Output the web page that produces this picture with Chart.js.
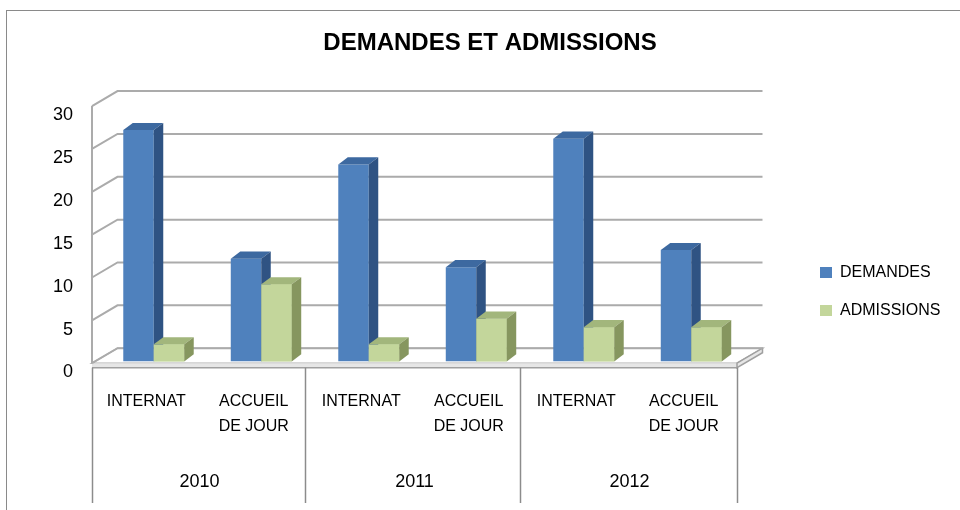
<!DOCTYPE html>
<html><head><meta charset="utf-8">
<script src="https://cdn.jsdelivr.net/npm/chart.js@4/dist/chart.umd.min.js"></script>
<style>
html,body{margin:0;padding:0;overflow:hidden;background:#fff;width:960px;height:510px}
#wrap{width:980px;height:600px}
</style></head>
<body><div id="wrap"><canvas id="c" width="980" height="600"></canvas></div>
<script>
// ---- data ----
const titleText = 'DEMANDES ET ADMISSIONS';
const years = ['2010', '2011', '2012'];
const categories = ['INTERNAT', ['ACCUEIL', 'DE JOUR'], 'INTERNAT', ['ACCUEIL', 'DE JOUR'], 'INTERNAT', ['ACCUEIL', 'DE JOUR']];
const seriesNames = ['DEMANDES', 'ADMISSIONS'];
const demandes = [27, 12, 23, 11, 26, 13];
const admissions = [2, 9, 2, 5, 4, 4];
const yMin = 0, yMax = 30, yStep = 5;

// ---- styles / layout ----
const FONT = "'Liberation Sans', Arial, sans-serif";
const frontColors = ['#4F81BD', '#C3D69B'];
const topColors = ['#3D69A0', '#A2B67C'];
const sideColors = ['#2F5383', '#86965F'];
const FRONT = {dx: -8, dy: 1.7};
const BACK = {dx: 17.5, dy: -13.3};
const DEPTH = {dx: 9.5, dy: -7.2};
const CANVAS_W = 980;
const LEGEND_LEFT = 798, LEGEND_PAD = 22, LEGEND_BOX = 12, LEGEND_FONT = 16;
const meas = document.createElement('canvas').getContext('2d');
meas.font = LEGEND_FONT + 'px ' + FONT;
const legendTextW = Math.max(...seriesNames.map(n => meas.measureText(n).width));
const legendW = LEGEND_PAD + LEGEND_BOX + LEGEND_FONT / 2 + legendTextW + 10;
const padRight = CANVAS_W - LEGEND_LEFT - legendW;
const padLeft = Math.max(0, 980 - (LEGEND_LEFT + legendW));

const box3d = {
  id: 'box3d',
  beforeDraw(chart) {
    const ctx = chart.ctx;
    ctx.save();
    ctx.strokeStyle = '#8A8A8A';
    ctx.lineWidth = 1;
    ctx.strokeRect(6.5, 10.5, 968, 580);
    ctx.restore();
  },
  beforeDatasetsDraw(chart) {
    const ctx = chart.ctx;
    const {left: L, right: R} = chart.chartArea;
    const ys = chart.scales.y;
    const y0 = ys.getPixelForValue(yMin);
    const yT = ys.getPixelForValue(yMax);
    ctx.save();
    ctx.beginPath();
    ctx.moveTo(L + FRONT.dx, y0 + FRONT.dy);
    ctx.lineTo(R + FRONT.dx, y0 + FRONT.dy);
    ctx.lineTo(R + BACK.dx, y0 + BACK.dy);
    ctx.lineTo(L + BACK.dx, y0 + BACK.dy);
    ctx.closePath();
    ctx.fillStyle = '#FFFFFF';
    ctx.fill();
    ctx.strokeStyle = '#B0B0B0';
    ctx.lineWidth = 1.5;
    ctx.stroke();
    const th = 4.5;
    ctx.fillStyle = '#E6E6E6';
    ctx.fillRect(L + FRONT.dx, y0 + FRONT.dy, R - L, th);
    ctx.beginPath();
    ctx.moveTo(R + FRONT.dx, y0 + FRONT.dy);
    ctx.lineTo(R + BACK.dx, y0 + BACK.dy);
    ctx.lineTo(R + BACK.dx, y0 + BACK.dy + th);
    ctx.lineTo(R + FRONT.dx, y0 + FRONT.dy + th);
    ctx.closePath();
    ctx.fill();
    ctx.strokeStyle = '#A0A0A0';
    ctx.stroke();
    ctx.beginPath();
    ctx.moveTo(L + FRONT.dx, y0 + FRONT.dy + th);
    ctx.lineTo(R + FRONT.dx, y0 + FRONT.dy + th);
    ctx.stroke();
    ctx.strokeStyle = '#ABABAB';
    ctx.lineWidth = 2;
    ys.ticks.forEach(t => {
      const y = ys.getPixelForValue(t.value);
      ctx.beginPath();
      ctx.moveTo(L + FRONT.dx, y + FRONT.dy);
      ctx.lineTo(L + BACK.dx, y + BACK.dy);
      ctx.lineTo(R + BACK.dx, y + BACK.dy);
      ctx.stroke();
    });
    ctx.beginPath();
    ctx.moveTo(L + FRONT.dx, yT + FRONT.dy);
    ctx.lineTo(L + FRONT.dx, y0 + FRONT.dy);
    ctx.stroke();
    ctx.strokeStyle = '#8C8C8C';
    ctx.lineWidth = 1.5;
    const x2 = chart.scales.x2;
    for (let i = 0; i <= years.length; i++) {
      const xb = Math.round(L + i * (R - L) / years.length + FRONT.dx - (i > 0 && i < years.length ? 2 : 0)) + 0.5;
      ctx.beginPath();
      ctx.moveTo(xb, y0 + FRONT.dy + th);
      ctx.lineTo(xb, x2.top + 61.5);
      ctx.stroke();
    }
    ctx.restore();
  },
  afterDatasetsDraw(chart) {
    const ctx = chart.ctx;
    ctx.save();
    chart.data.datasets.forEach((ds, di) => {
      const meta = chart.getDatasetMeta(di);
      // later series sit in front of the earlier series' side faces
      if (di > 0) meta.data.forEach(el => el.draw(ctx));
      meta.data.forEach(bar => {
        const {x, y, base, width} = bar.getProps(['x', 'y', 'base', 'width'], true);
        const l = x - width / 2, r = x + width / 2;
        ctx.beginPath();
        ctx.moveTo(l, y);
        ctx.lineTo(r, y);
        ctx.lineTo(r + DEPTH.dx, y + DEPTH.dy);
        ctx.lineTo(l + DEPTH.dx, y + DEPTH.dy);
        ctx.closePath();
        ctx.fillStyle = topColors[di];
        ctx.fill();
        ctx.beginPath();
        ctx.moveTo(r, y);
        ctx.lineTo(r + DEPTH.dx, y + DEPTH.dy);
        ctx.lineTo(r + DEPTH.dx, base + DEPTH.dy);
        ctx.lineTo(r, base);
        ctx.closePath();
        ctx.fillStyle = sideColors[di];
        ctx.fill();
      });
    });
    ctx.restore();
  }
};

new Chart(document.getElementById('c'), {
  type: 'bar',
  data: {
    labels: categories,
    datasets: [
      {label: seriesNames[0], data: demandes, backgroundColor: frontColors[0], borderWidth: 0},
      {label: seriesNames[1], data: admissions, backgroundColor: frontColors[1], borderWidth: 0}
    ]
  },
  options: {
    responsive: false,
    devicePixelRatio: 1,
    animation: false,
    layout: {padding: {left: padLeft, right: padRight, top: 0, bottom: 17}},
    datasets: {bar: {categoryPercentage: 0.567, barPercentage: 1}},
    font: {family: FONT},
    scales: {
      y: {
        position: 'left', min: yMin, max: yMax,
        grid: {display: false, drawTicks: false},
        border: {display: false},
        ticks: {stepSize: yStep, color: '#000', font: {family: FONT, size: 18}, padding: 27, labelOffset: 11},
        afterFit: s => { s.width = 100 - padLeft; }
      },
      yR: {
        type: 'linear', position: 'right', display: true,
        grid: {display: false, drawTicks: false}, border: {display: false},
        ticks: {display: false},
        afterFit: s => { s.width = 53; }
      },
      x: {
        type: 'category', position: 'bottom', offset: true,
        grid: {display: false, drawTicks: false}, border: {display: false},
        ticks: {color: '#000', font: {family: FONT, size: 16, lineHeight: '25px'}, padding: 27.5, labelOffset: -7.5, maxRotation: 0, minRotation: 0, autoSkip: false},
        afterFit: s => { s.height = 80; }
      },
      x2: {
        type: 'category', labels: years, position: 'bottom', offset: true,
        grid: {display: false, drawTicks: false}, border: {display: false},
        ticks: {color: '#000', font: {family: FONT, size: 18}, padding: 30.2, labelOffset: -8, maxRotation: 0, minRotation: 0, autoSkip: false},
        afterFit: s => { s.height = 141.5; }
      }
    },
    plugins: {
      title: {
        display: true, text: titleText, color: '#000',
        font: {family: FONT, size: 24, weight: 'bold'},
        padding: {top: 29.2, bottom: 46.4}
      },
      legend: {
        position: 'right', align: 'center',
        labels: {
          color: '#000', font: {family: FONT, size: LEGEND_FONT},
          boxWidth: LEGEND_BOX, boxHeight: 11, padding: LEGEND_PAD
        }
      },
      tooltip: {enabled: false}
    }
  },
  plugins: [box3d]
});
</script>
</body></html>
